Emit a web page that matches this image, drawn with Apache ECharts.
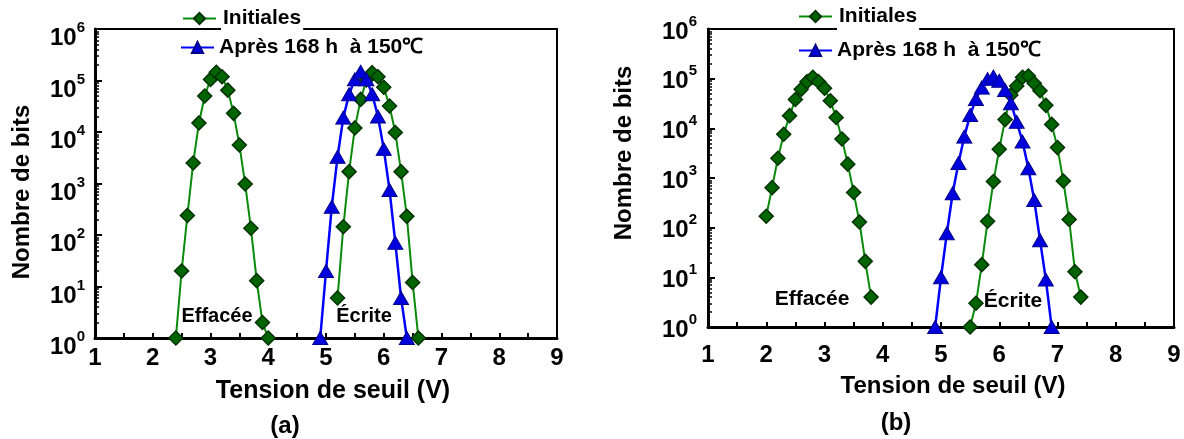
<!DOCTYPE html>
<html>
<head>
<meta charset="utf-8">
<script src="https://cdn.jsdelivr.net/npm/echarts@6/dist/echarts.min.js"></script>
<style>
html,body{margin:0;padding:0;background:#fff;}
#chart{width:1184px;height:439px;}
</style>
</head>
<body>
<div id="chart"></div>
<script>
// ---- Data ----
// Chart (a)
const vEffA = [2.4,2.5,2.6,2.7,2.8,2.9,3.0,3.1,3.2,3.3,3.4,3.5,3.6,3.7,3.8,3.9,4.0];
const nEffA = [1,20,240,2500,15000,50000,105000,145000,118000,65000,23000,5600,980,135,13,2,1];
const vEcrA = [5.2,5.3,5.4,5.5,5.6,5.7,5.8,5.9,6.0,6.1,6.2,6.3,6.4,6.5,6.6];
const nEcrA = [6,145,1700,12000,43000,102000,142000,118000,74000,32000,9800,1700,230,12,1];
const vAprA = [4.9,5.0,5.1,5.2,5.3,5.4,5.5,5.6,5.7,5.8,5.9,6.0,6.1,6.2,6.3,6.4];
const nAprA = [1,20,355,3300,19000,54000,105000,148000,105000,54000,20000,4700,750,71,6,1];
// Chart (b)
const vEffB = [2.0,2.1,2.2,2.3,2.4,2.5,2.6,2.7,2.8,2.9,3.0,3.1,3.2,3.3,3.4,3.5,3.6,3.7,3.8];
const nEffB = [170,640,2500,7600,18000,38000,61000,87000,107000,87000,64000,36000,16500,6100,1900,510,130,21,4];
const vEcrB = [5.5,5.6,5.7,5.8,5.9,6.0,6.1,6.2,6.3,6.4,6.5,6.6,6.7,6.8,6.9,7.0,7.1,7.2,7.3,7.4];
const nEcrB = [1,3,18,135,850,3800,15000,47000,71000,107000,113000,81000,57000,29000,12000,4100,870,146,13,4];
const vAprB = [4.9,5.0,5.1,5.2,5.3,5.4,5.5,5.6,5.7,5.8,5.9,6.0,6.1,6.2,6.3,6.4,6.5,6.6,6.7,6.8,6.9];
const nAprB = [1,10,77,490,2000,6800,18500,39000,66000,98000,110000,91000,59000,32000,13500,5400,1570,360,56,9,1];

const nameInit = 'Initiales';
const nameApres = 'Après 168 h  à 150℃';
const xTitle = 'Tension de seuil (V)';
const yTitle = 'Nombre de bits';
const panelLabels = ['(a)', '(b)'];
const annotEff = 'Effacée';
const annotEcr = 'Écrite';

// ---- Rendering ----
const FONT = '"Liberation Sans", Arial, Helvetica, sans-serif';
const zip = (xs, ys) => xs.map((x, i) => [x, ys[i]]);

const yRich = {
  b: {fontFamily: FONT, fontWeight: 'bold', fontSize: 24, lineHeight: 30, color: '#000', verticalAlign: 'bottom'},
  s: {fontFamily: FONT, fontWeight: 'bold', fontSize: 15, lineHeight: 15, color: '#000', verticalAlign: 'top'}
};
const yFmt = v => { const e = Math.round(Math.log10(v)); return '{b|10}{s|' + e + '}'; };

function xAxis(idx, margin, gap, shift, titleSize) {
  return {
    type: 'value', gridIndex: idx, min: 1, max: 9, interval: 1,
    axisLine: {show: true, onZero: false, lineStyle: {color: '#000', width: 3}},
    axisTick: {show: true, inside: true, length: 5, lineStyle: {color: '#000', width: 2}},
    minorTick: {show: true, splitNumber: 2, length: 5, lineStyle: {color: '#000', width: 2}},
    splitLine: {show: false},
    axisLabel: {margin: margin, fontFamily: FONT, fontWeight: 'bold', fontSize: 24, color: '#000'},
    name: xTitle, nameLocation: 'middle', nameGap: gap,
    nameTextStyle: {fontFamily: FONT, fontWeight: 'bold', fontSize: titleSize, lineHeight: titleSize, color: '#000', padding: [0, 0, 0, shift]}
  };
}
function yAxis(idx, labelPad, margin, gap, pad) {
  return {
    type: 'log', logBase: 10, gridIndex: idx, min: 1, max: 1000000, splitNumber: 6,
    axisLine: {show: true, onZero: false, lineStyle: {color: '#000', width: 3}},
    axisTick: {show: true, inside: true, length: 7, lineStyle: {color: '#000', width: 2}},
    minorTick: {show: true, splitNumber: 9, length: 4, lineStyle: {color: '#000', width: 1.5}},
    splitLine: {show: false},
    axisLabel: {margin: margin, formatter: yFmt, rich: yRich, padding: labelPad},
    name: yTitle, nameLocation: 'middle', nameGap: gap, nameRotate: 90,
    nameTextStyle: {fontFamily: FONT, fontWeight: 'bold', fontSize: 24, lineHeight: 24, color: '#000', padding: pad}
  };
}

const greenStyle = {
  type: 'line', symbol: 'diamond', symbolSize: [14, 14], clip: false, z: 3,
  lineStyle: {color: '#0a8a0a', width: 2},
  itemStyle: {color: '#006400', borderColor: '#003300', borderWidth: 1.5}
};
const blueStyle = {
  type: 'line', symbol: 'triangle', symbolSize: [15, 13], clip: false, z: 4,
  lineStyle: {color: '#0000ff', width: 2.5},
  itemStyle: {color: '#0000dd', borderColor: '#00008b', borderWidth: 1}
};
const mk = (base, name, gi, xs, ys) => Object.assign({}, base, {name: name, xAxisIndex: gi, yAxisIndex: gi, data: zip(xs, ys)});

const legText = {fontFamily: FONT, fontWeight: 'bold', fontSize: 21, lineHeight: 21, color: '#000'};
const legTextBg = Object.assign({}, legText, {backgroundColor: '#fff', padding: [5, 2, 5, 2]});
function legend(name, left, top, bg) {
  return {data: [name], left: left, top: top, padding: 0, itemWidth: 33, itemHeight: 14, itemGap: 0,
    selectedMode: false, textStyle: bg ? legTextBg : legText};
}
const annot = (text, x, y, size) => ({type: 'text', x: x, y: y, z: 10,
  style: {text: text, font: 'bold ' + size + 'px ' + FONT, fill: '#000', textAlign: 'center', textVerticalAlign: 'middle'}});

const chart = echarts.init(document.getElementById('chart'), null, {renderer: 'canvas'});
chart.setOption({
  animation: false,
  backgroundColor: '#fff',
  grid: [
    {left: 95, top: 29, width: 462, height: 309, show: true, borderColor: '#000', borderWidth: 2,
     backgroundColor: 'transparent', containLabel: false, outerBoundsMode: 'none'},
    {left: 708, top: 29, width: 466, height: 298, show: true, borderColor: '#000', borderWidth: 2,
     backgroundColor: 'transparent', containLabel: false, outerBoundsMode: 'none'}
  ],
  xAxis: [xAxis(0, 8, 41, 14, 25), xAxis(1, 16, 47, 24, 24)],
  yAxis: [yAxis(0, [13, 0, 0, 0], 10, 61, [0, 17, 0, 0]), yAxis(1, 0, 11, 72, [0, 0, 0, 50])],
  legend: [
    legend(nameInit, 182, 3, true),
    legend(nameApres, 180, 37, false),
    legend(nameInit, 798, 1, true),
    legend(nameApres, 798, 40, false)
  ],
  graphic: [
    annot(annotEff, 217, 316, 20),
    annot(annotEcr, 364, 316, 20),
    annot(annotEff, 812, 299, 21),
    annot(annotEcr, 1013, 301, 21),
    annot(panelLabels[0], 285, 426, 24),
    annot(panelLabels[1], 896, 423, 24)
  ],
  series: [
    mk(greenStyle, nameInit, 0, vEffA, nEffA),
    mk(greenStyle, nameInit, 0, vEcrA, nEcrA),
    mk(blueStyle, nameApres, 0, vAprA, nAprA),
    mk(greenStyle, nameInit, 1, vEffB, nEffB),
    mk(greenStyle, nameInit, 1, vEcrB, nEcrB),
    mk(blueStyle, nameApres, 1, vAprB, nAprB)
  ]
});
</script>
</body>
</html>
